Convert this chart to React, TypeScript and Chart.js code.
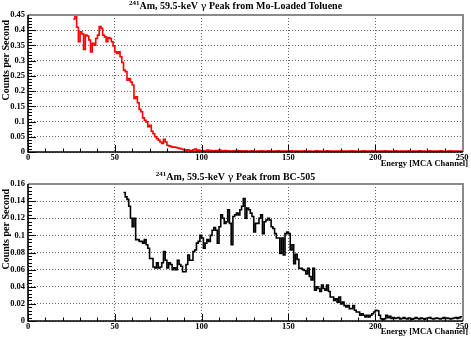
import React, { useEffect, useRef } from "react";
import { Chart, registerables } from "chart.js";

Chart.register(...registerables);

// ---------- data ----------
const xTickValues = [0, 50, 100, 150, 200, 250];
const xTickLabels = ["0", "50", "100", "150", "200", "250"];

const topYTickValues = [0, 0.05, 0.1, 0.15, 0.2, 0.25, 0.3, 0.35, 0.4, 0.45];
const topYTickLabels = ["0", "0.05", "0.1", "0.15", "0.2", "0.25", "0.3", "0.35", "0.4", "0.45"];
const bottomYTickValues = [0, 0.02, 0.04, 0.06, 0.08, 0.1, 0.12, 0.14, 0.16];
const bottomYTickLabels = ["0", "0.02", "0.04", "0.06", "0.08", "0.1", "0.12", "0.14", "0.16"];

const topTitleParts = ["241", "Am, 59.5-keV ", "γ", " Peak from Mo-Loaded Toluene"];
const bottomTitleParts = ["241", "Am, 59.5-keV ", "γ", " Peak from BC-505"];
const xAxisTitle = "Energy [MCA Channel]";
const yAxisTitle = "Counts per Second";

// first channel of each histogram (bin width = 1 MCA channel)
const topFirstChannel = 26;
const topCounts = [
  0.437, 0.447, 0.410, 0.362, 0.395, 0.388, 0.337, 0.384, 0.381, 0.368,
  0.329, 0.357, 0.351, 0.373, 0.384, 0.412, 0.406, 0.384, 0.378, 0.362,
  0.376, 0.373, 0.362, 0.348, 0.329, 0.324, 0.329, 0.313, 0.294, 0.269,
  0.264, 0.236, 0.241, 0.230, 0.220, 0.176, 0.181, 0.162, 0.140, 0.132,
  0.112, 0.104, 0.099, 0.083, 0.088, 0.068, 0.060, 0.050, 0.044, 0.039,
  0.033, 0.028, 0.042, 0.033, 0.022, 0.020, 0.018, 0.016, 0.016, 0.015,
  0.013, 0.012, 0.010, 0.008, 0.005, 0.007, 0.006, 0.005, 0.005, 0.007,
  0.010, 0.005,
  0.006, 0.004, 0.005, 0.003, 0.004, 0.006, 0.003, 0.005, 0.004, 0.003,
  0.005, 0.004, 0.006, 0.003, 0.004, 0.005, 0.003, 0.004, 0.003, 0.002,
  0.004, 0.003, 0.005, 0.003, 0.004, 0.002, 0.003, 0.004, 0.003, 0.002,
  0.003, 0.004, 0.002, 0.003, 0.003, 0.002, 0.004, 0.003, 0.002, 0.003,
  0.004, 0.003, 0.002, 0.003, 0.002, 0.003, 0.004, 0.002, 0.003, 0.002,
  0.003, 0.002, 0.003, 0.004, 0.002, 0.003, 0.002, 0.003, 0.002, 0.003,
  0.002, 0.004, 0.003, 0.002, 0.003, 0.002, 0.002, 0.003, 0.004, 0.002,
  0.003, 0.002, 0.003, 0.002, 0.004, 0.003, 0.002, 0.003, 0.002, 0.003,
  0.002, 0.003, 0.004, 0.002, 0.003, 0.002, 0.003, 0.002, 0.004, 0.003,
  0.002, 0.003, 0.002, 0.003, 0.002, 0.004, 0.002, 0.003, 0.002, 0.003,
  0.004, 0.002, 0.003, 0.002, 0.003, 0.002, 0.003, 0.004, 0.002, 0.003,
  0.002, 0.003, 0.002, 0.004, 0.003, 0.002, 0.003, 0.002, 0.003, 0.002,
  0.003, 0.004, 0.002, 0.003, 0.002, 0.003, 0.002, 0.004, 0.003, 0.002,
  0.003, 0.002, 0.003, 0.004, 0.002, 0.003, 0.002, 0.003, 0.002, 0.004,
  0.003, 0.002, 0.003, 0.002, 0.003, 0.004, 0.002, 0.003, 0.002, 0.003,
  0.003, 0.002, 0.003,
];

const bottomFirstChannel = 55;
const bottomCounts = [
  0.150, 0.145, 0.142, 0.134, 0.120, 0.110, 0.120, 0.095, 0.095, 0.093,
  0.093, 0.091, 0.095, 0.089, 0.085, 0.073, 0.073, 0.063, 0.062, 0.068,
  0.062, 0.063, 0.068, 0.081, 0.071, 0.062, 0.068, 0.066, 0.060, 0.062,
  0.060, 0.071, 0.066, 0.064, 0.0575, 0.0575, 0.066, 0.077, 0.071, 0.071,
  0.081, 0.083, 0.091, 0.093, 0.100, 0.097, 0.085, 0.091, 0.095, 0.093,
  0.100, 0.106, 0.109, 0.106, 0.091, 0.110, 0.124, 0.120, 0.114, 0.116,
  0.130, 0.114, 0.089, 0.122, 0.124, 0.126, 0.124, 0.130, 0.134, 0.143,
  0.120, 0.132, 0.130, 0.126, 0.122, 0.104, 0.114, 0.114, 0.120, 0.124,
  0.102, 0.116, 0.118, 0.120, 0.118, 0.110, 0.108, 0.102, 0.097, 0.097,
  0.079, 0.097, 0.077, 0.102, 0.104, 0.102, 0.083, 0.089, 0.067, 0.078,
  0.072, 0.0615, 0.0615, 0.060, 0.059, 0.055, 0.0615, 0.052, 0.048, 0.0615,
  0.036, 0.040, 0.038, 0.0345, 0.042, 0.038, 0.036, 0.042, 0.0345, 0.028,
  0.028, 0.024, 0.026, 0.022, 0.028, 0.020, 0.022, 0.018, 0.0165, 0.018,
  0.0145, 0.0145, 0.018, 0.0125, 0.0105, 0.0105, 0.0067, 0.0085, 0.0067, 0.0047,
  0.0067, 0.0047, 0.0067, 0.0085, 0.0105, 0.0125, 0.012, 0.0067, 0.0027, 0.0015,
  0.0027, 0.0067, 0.004, 0.0055, 0.003, 0.004,
  0.003, 0.0035, 0.004, 0.0025, 0.003, 0.004, 0.003, 0.0025, 0.0035, 0.003,
  0.002, 0.003, 0.004, 0.003, 0.0025, 0.0035, 0.003, 0.002, 0.003, 0.0035,
  0.004, 0.003, 0.0025, 0.003, 0.0035, 0.003, 0.0025, 0.003, 0.004, 0.003,
  0.0035, 0.003, 0.0025, 0.003, 0.0035, 0.004, 0.003, 0.004, 0.005, 0.005,
];

// ---------- styling ----------
const SERIF = '"Liberation Serif", "DejaVu Serif", serif';
const W = 471;
const H = 169;

type PanelCfg = {
  counts: number[];
  first: number;
  color: string;
  yMax: number;
  yTicks: number[];
  yLabels: string[];
  yMinorStep: number;
  title: string[];
  titleY: number;
  xTitleY: number;
};

function histPoints(counts: number[], first: number) {
  const pts = counts.map((v, i) => ({ x: first + i, y: v }));
  pts.push({ x: first + counts.length, y: counts[counts.length - 1] });
  return pts;
}

function makeDecorPlugin(cfg: PanelCfg) {
  return {
    id: "rootDecor",
    afterDraw(chart: any) {
      const ctx = chart.ctx as CanvasRenderingContext2D;
      const { left, right, top, bottom } = chart.chartArea;
      const xs = chart.scales.x;
      const ys = chart.scales.y;
      ctx.save();

      // minor / major ticks on y (inside)
      ctx.strokeStyle = "#000";
      ctx.lineWidth = 1;
      const nMinor = Math.round(cfg.yMax / cfg.yMinorStep);
      for (let i = 0; i <= nMinor; i++) {
        const v = i * cfg.yMinorStep;
        const py = Math.round(ys.getPixelForValue(v)) + 0.5;
        const major = i % 5 === 0;
        ctx.beginPath();
        ctx.moveTo(left, py);
        ctx.lineTo(left + (major ? 8 : 4), py);
        ctx.stroke();
      }
      // ticks on x (inside)
      for (let v = 0; v <= 250; v += 10) {
        const px = Math.round(xs.getPixelForValue(v)) + 0.5;
        const major = v % 50 === 0;
        ctx.beginPath();
        ctx.moveTo(px, bottom);
        ctx.lineTo(px, bottom - (major ? 7 : 3.5));
        ctx.stroke();
      }

      // frame: top/right grey, left/bottom black
      ctx.strokeStyle = "#8a8a8a";
      ctx.lineWidth = 2;
      ctx.beginPath();
      ctx.moveTo(left, top);
      ctx.lineTo(right, top);
      ctx.lineTo(right, bottom);
      ctx.stroke();
      ctx.strokeStyle = "#000";
      ctx.lineWidth = 1.6;
      ctx.beginPath();
      ctx.moveTo(left, top);
      ctx.lineTo(left, bottom);
      ctx.lineTo(right, bottom);
      ctx.stroke();

      // title with superscript
      ctx.fillStyle = "#000";
      ctx.textBaseline = "middle";
      ctx.textAlign = "left";
      const fonts = [
        `bold 7px ${SERIF}`,
        `bold 10px ${SERIF}`,
        `10px "DejaVu Serif", ${SERIF}`,
        `bold 10px ${SERIF}`,
      ];
      const dys = [-3, 0, 0, 0];
      const widths = cfg.title.map((t, i) => {
        ctx.font = fonts[i];
        return ctx.measureText(t).width;
      });
      const total = widths.reduce((a, b) => a + b, 0);
      let tx = W / 2 - total / 2;
      cfg.title.forEach((t, i) => {
        ctx.font = fonts[i];
        ctx.fillText(t, tx, cfg.titleY + dys[i]);
        tx += widths[i];
      });

      // x axis title
      ctx.font = `bold 8.5px ${SERIF}`;
      ctx.textAlign = "right";
      ctx.fillText(xAxisTitle, 468, cfg.xTitleY);

      // y axis title
      ctx.translate(6, top + 5);
      ctx.rotate(-Math.PI / 2);
      ctx.font = `bold 10px ${SERIF}`;
      ctx.textAlign = "right";
      ctx.fillText(yAxisTitle, 0, 0);

      ctx.restore();
    },
  };
}

function buildConfig(cfg: PanelCfg): any {
  const tickFont = { family: SERIF, size: 8.5, weight: "bold" as const };
  return {
    type: "line",
    data: {
      datasets: [
        {
          data: histPoints(cfg.counts, cfg.first),
          borderColor: cfg.color,
          borderWidth: 1.6,
          pointRadius: 0,
          stepped: "before",
          fill: false,
          tension: 0,
        },
      ],
    },
    options: {
      animation: false,
      responsive: false,
      devicePixelRatio: 1,
      parsing: true,
      layout: { padding: { top: 15, right: 8, left: 0, bottom: 0 } },
      plugins: {
        legend: { display: false },
        title: { display: false },
        tooltip: { enabled: false },
      },
      scales: {
        x: {
          type: "linear",
          min: 0,
          max: 250.5,
          afterBuildTicks: (s: any) => {
            s.ticks = xTickValues.map((v) => ({ value: v }));
          },
          afterFit: (s: any) => {
            s.height = 17;
          },
          ticks: {
            autoSkip: false,
            maxRotation: 0,
            padding: 1,
            color: "#000",
            font: tickFont,
            callback: (_v: any, i: number) => xTickLabels[i],
          },
          grid: { color: "#666", lineWidth: 1, drawTicks: false },
          border: { display: false, dash: [1, 2] },
        },
        y: {
          type: "linear",
          min: 0,
          max: cfg.yMax,
          afterBuildTicks: (s: any) => {
            s.ticks = cfg.yTicks.map((v) => ({ value: v }));
          },
          afterFit: (s: any) => {
            s.width = 28;
          },
          ticks: {
            autoSkip: false,
            padding: 3,
            color: "#000",
            font: tickFont,
            callback: (_v: any, i: number) => cfg.yLabels[i],
          },
          grid: { color: "#666", lineWidth: 1, drawTicks: false },
          border: { display: false, dash: [1, 2] },
        },
      },
    },
    plugins: [makeDecorPlugin(cfg)],
  };
}

const topCfg: PanelCfg = {
  counts: topCounts,
  first: topFirstChannel,
  color: "#ff0000",
  yMax: 0.45,
  yTicks: topYTickValues,
  yLabels: topYTickLabels,
  yMinorStep: 0.01,
  title: topTitleParts,
  titleY: 6.5,
  xTitleY: 164,
};

const bottomCfg: PanelCfg = {
  counts: bottomCounts,
  first: bottomFirstChannel,
  color: "#000000",
  yMax: 0.16,
  yTicks: bottomYTickValues,
  yLabels: bottomYTickLabels,
  yMinorStep: 0.004,
  title: bottomTitleParts,
  titleY: 8.5,
  xTitleY: 163,
};

function Panel({ cfg }: { cfg: PanelCfg }) {
  const ref = useRef<HTMLCanvasElement>(null);
  useEffect(() => {
    const chart = new Chart(ref.current as HTMLCanvasElement, buildConfig(cfg));
    return () => chart.destroy();
  }, [cfg]);
  return (
    <canvas
      ref={ref}
      width={W}
      height={H}
      style={{ display: "block", width: W, height: H }}
    />
  );
}

export default function App() {
  return (
    <div
      style={{
        position: "absolute",
        left: 0,
        top: 0,
        width: W,
        height: 2 * H,
        background: "#fff",
      }}
    >
      <Panel cfg={topCfg} />
      <Panel cfg={bottomCfg} />
    </div>
  );
}
